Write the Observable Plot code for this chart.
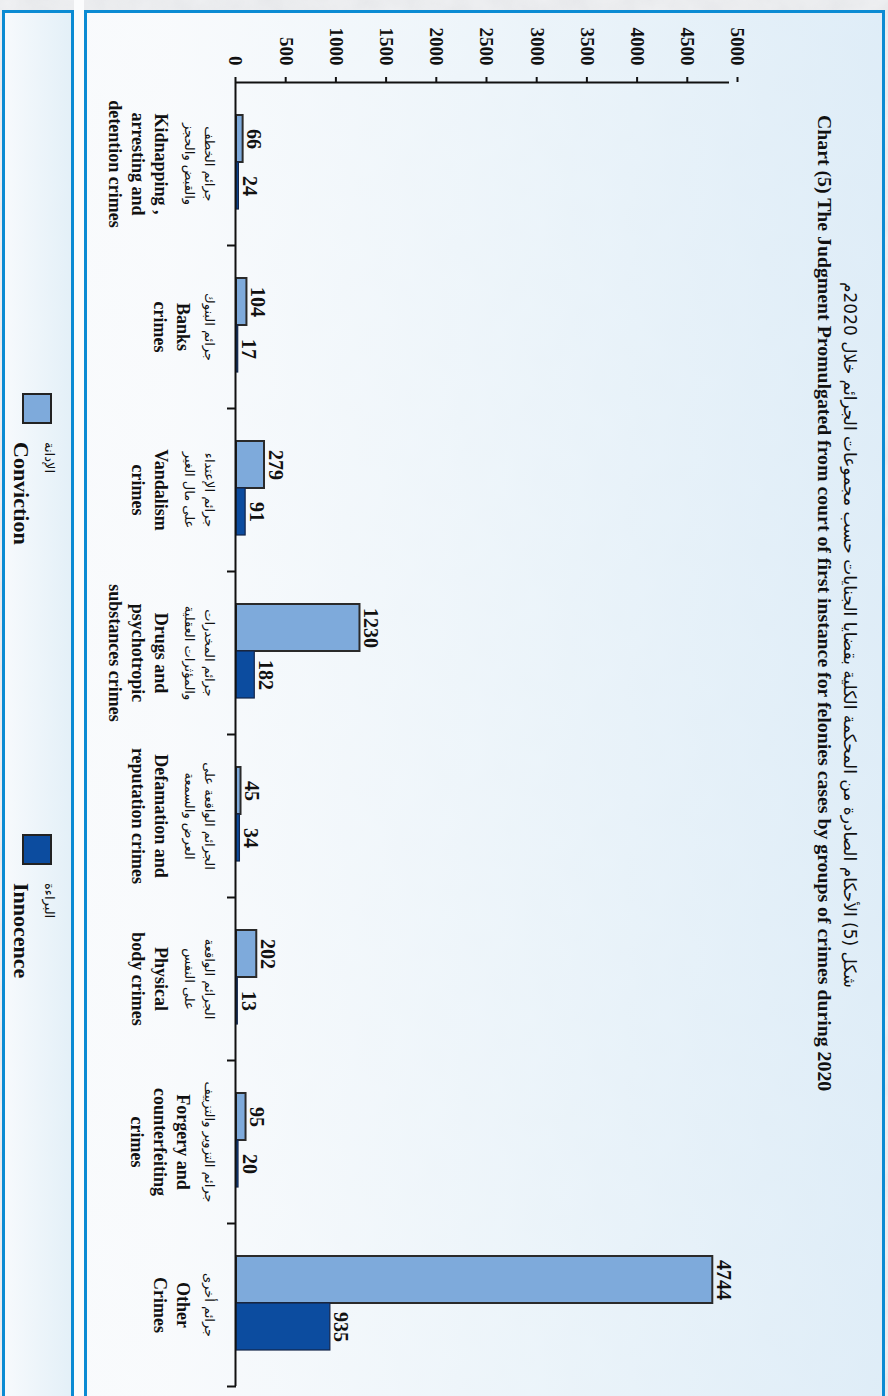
<!DOCTYPE html>
<html>
<head>
<meta charset="utf-8">
<script src="https://cdn.jsdelivr.net/npm/d3@7"></script>
<script src="https://cdn.jsdelivr.net/npm/@observablehq/plot@0.6"></script>
<style>
  html, body { margin: 0; padding: 0; width: 888px; height: 1396px; overflow: hidden; background: #eceef0; }
  #rot { position: absolute; left: 0; top: 0; width: 1396px; height: 888px;
         transform-origin: 0 0; transform: translate(888px, 0) rotate(90deg); }
  #tex { position: absolute; left: 0; top: 0; }
  .panel { position: absolute; box-sizing: border-box; border: 3px solid #0b8bd3; border-right: none; }
  #mainPanel { left: 10px; top: 3px; width: 1400px; height: 801px;
     background: linear-gradient(to bottom, rgba(222,237,248,0.93) 0%, rgba(236,245,251,0.9) 45%, rgba(249,251,253,0.96) 90%); }
  #legPanel { left: 10px; top: 814px; width: 1400px; height: 72px;
     background: linear-gradient(to bottom, rgba(227,240,248,0.95) 0%, rgba(247,250,253,0.97) 100%); }
  #gap { position: absolute; left: 0; top: 804px; width: 1400px; height: 10px; background: #fbfcfd; }
  .title { position: absolute; white-space: nowrap; color: #111; }
  #titleAr { font-family: "DejaVu Sans", sans-serif; font-size: 17px; top: 28px; direction: rtl; }
  #titleEn { font-family: "Liberation Serif", serif; font-weight: bold; font-size: 19.8px; top: 52px; }
  #chart { position: absolute; left: 0; top: 100px; }
  .sw { position: absolute; box-sizing: border-box; border: 2px solid #222; width: 31px; height: 30px; }
  .legAr { position: absolute; font-family: "DejaVu Sans", sans-serif; font-size: 13px; color: #111; white-space: nowrap; }
  .legEn { position: absolute; font-family: "Liberation Serif", serif; font-weight: bold; font-size: 22px; color: #111; white-space: nowrap; }
</style>
</head>
<body>
<div id="rot">
  <svg id="tex" width="1400" height="888">
    <filter id="noise"><feTurbulence type="fractalNoise" baseFrequency="0.03" numOctaves="4" seed="7"/>
      <feColorMatrix type="matrix" values="0 0 0 0 0.55  0 0 0 0 0.57  0 0 0 0 0.6  0 0 0 0.5 0"/></filter>
    <rect width="1400" height="888" fill="#f1f2f4"/>
    <rect width="1400" height="888" filter="url(#noise)" opacity="0.55"/>
  </svg>
  <div id="gap"></div>
  <div id="mainPanel" class="panel"></div>
  <div id="legPanel" class="panel"></div>
  <div id="titleAr" class="title"></div>
  <div id="titleEn" class="title"></div>
  <div id="chart"></div>
  <div id="legend"></div>
</div>
<script>
// ---- data ----
const titleAr = "شكل (5) الأحكام الصادرة من المحكمة الكلية بقضايا الجنايات حسب مجموعات الجرائم خلال 2020م";
const titleEn = "Chart (5) The Judgment Promulgated from court of first instance for felonies cases by groups of crimes during 2020";

const categoriesEn = [
  "Kidnapping ,\narresting and\ndetention crimes",
  "Banks\ncrimes",
  "Vandalism\ncrimes",
  "Drugs and\npsychotropic\nsubstances crimes",
  "Defamation and\nreputation crimes",
  "Physical\nbody crimes",
  "Forgery and\ncounterfeiting\ncrimes",
  "Other\nCrimes"
];
const categoriesAr = [
  "جرائم الخطف\nوالقبض والحجز",
  "جرائم البنوك",
  "جرائم الإعتداء\nعلى مال الغير",
  "جرائم المخدرات\nوالمؤثرات العقلية",
  "الجرائم الواقعة على\nالعرض والسمعة",
  "الجرائم الواقعة\nعلى النفس",
  "جرائم التزوير والتزييف",
  "جرائم أخرى"
];
const conviction = [66, 104, 279, 1230, 45, 202, 95, 4744];
const innocence  = [24, 17, 91, 182, 34, 13, 20, 935];
const yTicks = [0, 500, 1000, 1500, 2000, 2500, 3000, 3500, 4000, 4500, 5000];

const seriesNames = ["Conviction", "Innocence"];
const seriesNamesAr = ["الإدانة", "البراءة"];
const seriesColors = ["#7eaadb", "#0c4c9f"];

// ---- titles ----
const tAr = document.getElementById("titleAr");
tAr.textContent = titleAr;
const tEn = document.getElementById("titleEn");
tEn.textContent = titleEn;

// ---- chart ----
const W = 1396, H = 690, mL = 82, mR = 10, mT = 50, mB = 138;
const bw = (W - mL - mR) / categoriesEn.length;
const gapL = 33, barW = 47;

const rows = categoriesEn.map((c, i) => ({
  cat: c, ar: categoriesAr[i], nAr: categoriesAr[i].split("\n").length,
  conv: conviction[i], inn: innocence[i]
}));

const serif = "Liberation Serif, serif";
const chart = Plot.plot({
  width: W, height: H,
  marginLeft: mL, marginRight: mR, marginTop: mT, marginBottom: mB,
  x: {domain: categoriesEn, padding: 0, label: null},
  y: {domain: [0, 5000], label: null},
  style: {background: "transparent", overflow: "visible"},
  marks: [
    Plot.barY(rows, {x: "cat", y: "conv", fill: seriesColors[0], stroke: "#2a2a2a", strokeWidth: 2,
      insetLeft: gapL, insetRight: bw - gapL - barW}),
    Plot.barY(rows, {x: "cat", y: "inn", fill: seriesColors[1], stroke: "#13254a", strokeWidth: 1.2,
      insetLeft: gapL + barW, insetRight: bw - gapL - 2 * barW}),
    Plot.text(rows, {x: "cat", y: "conv", text: d => String(d.conv), dx: gapL + barW / 2 - bw / 2, dy: -5,
      lineAnchor: "bottom", fontSize: 20, fontWeight: "bold", fontFamily: serif, fill: "#111"}),
    Plot.text(rows, {x: "cat", y: "inn", text: d => String(d.inn), dx: gapL + 1.5 * barW - bw / 2, dy: -5,
      lineAnchor: "bottom", fontSize: 20, fontWeight: "bold", fontFamily: serif, fill: "#111"}),
    // category axis line and boundary ticks
    Plot.ruleY([0], {stroke: "#111", strokeWidth: 2}),
    Plot.axisX({tickSize: 9, tickFormat: () => "", label: null, dx: bw / 2, strokeWidth: 2, stroke: "#111"}),
    // value axis line
    Plot.ruleX([categoriesEn[0]], {dx: -bw / 2, y1: 0, y2: 5000, insetBottom: -9, stroke: "#111", strokeWidth: 2}),
    Plot.axisY({ticks: yTicks, tickSize: 5, tickPadding: 12, tickFormat: d => String(d), label: null,
      fontSize: 19, fontWeight: "bold", fontFamily: serif, strokeWidth: 2, stroke: "#111", fill: "#111"}),
    // category labels
    Plot.text(rows, {x: "cat", y: 0, text: "ar", lineAnchor: "top", dy: 16, lineHeight: 1.55,
      fontSize: 13, fontFamily: "DejaVu Sans, sans-serif", fill: "#111"}),
    Plot.text(rows.filter(d => d.nAr === 1), {x: "cat", y: 0, text: "cat", lineAnchor: "top", dy: 42, lineHeight: 1.28,
      fontSize: 18, fontWeight: "bold", fontFamily: serif, fill: "#111"}),
    Plot.text(rows.filter(d => d.nAr === 2), {x: "cat", y: 0, text: "cat", lineAnchor: "top", dy: 64, lineHeight: 1.28,
      fontSize: 18, fontWeight: "bold", fontFamily: serif, fill: "#111"})
  ]
});
document.getElementById("chart").appendChild(chart);

// center titles at measured positions (unrotated x)
tAr.style.left = (635 - tAr.offsetWidth / 2) + "px";
tEn.style.left = (603 - tEn.offsetWidth / 2) + "px";

// ---- legend ----
const legend = document.getElementById("legend");
const legPos = [393, 834];
seriesNames.forEach((name, i) => {
  const sw = document.createElement("div");
  sw.className = "sw";
  sw.style.left = legPos[i] + "px";
  sw.style.top = "836px";
  sw.style.background = seriesColors[i];
  legend.appendChild(sw);
  const ar = document.createElement("div");
  ar.className = "legAr";
  ar.textContent = seriesNamesAr[i];
  ar.style.left = (legPos[i] + 49) + "px";
  ar.style.top = "831px";
  legend.appendChild(ar);
  const en = document.createElement("div");
  en.className = "legEn";
  en.textContent = name;
  en.style.left = (legPos[i] + 49) + "px";
  en.style.top = "854px";
  legend.appendChild(en);
});
</script>
</body>
</html>
